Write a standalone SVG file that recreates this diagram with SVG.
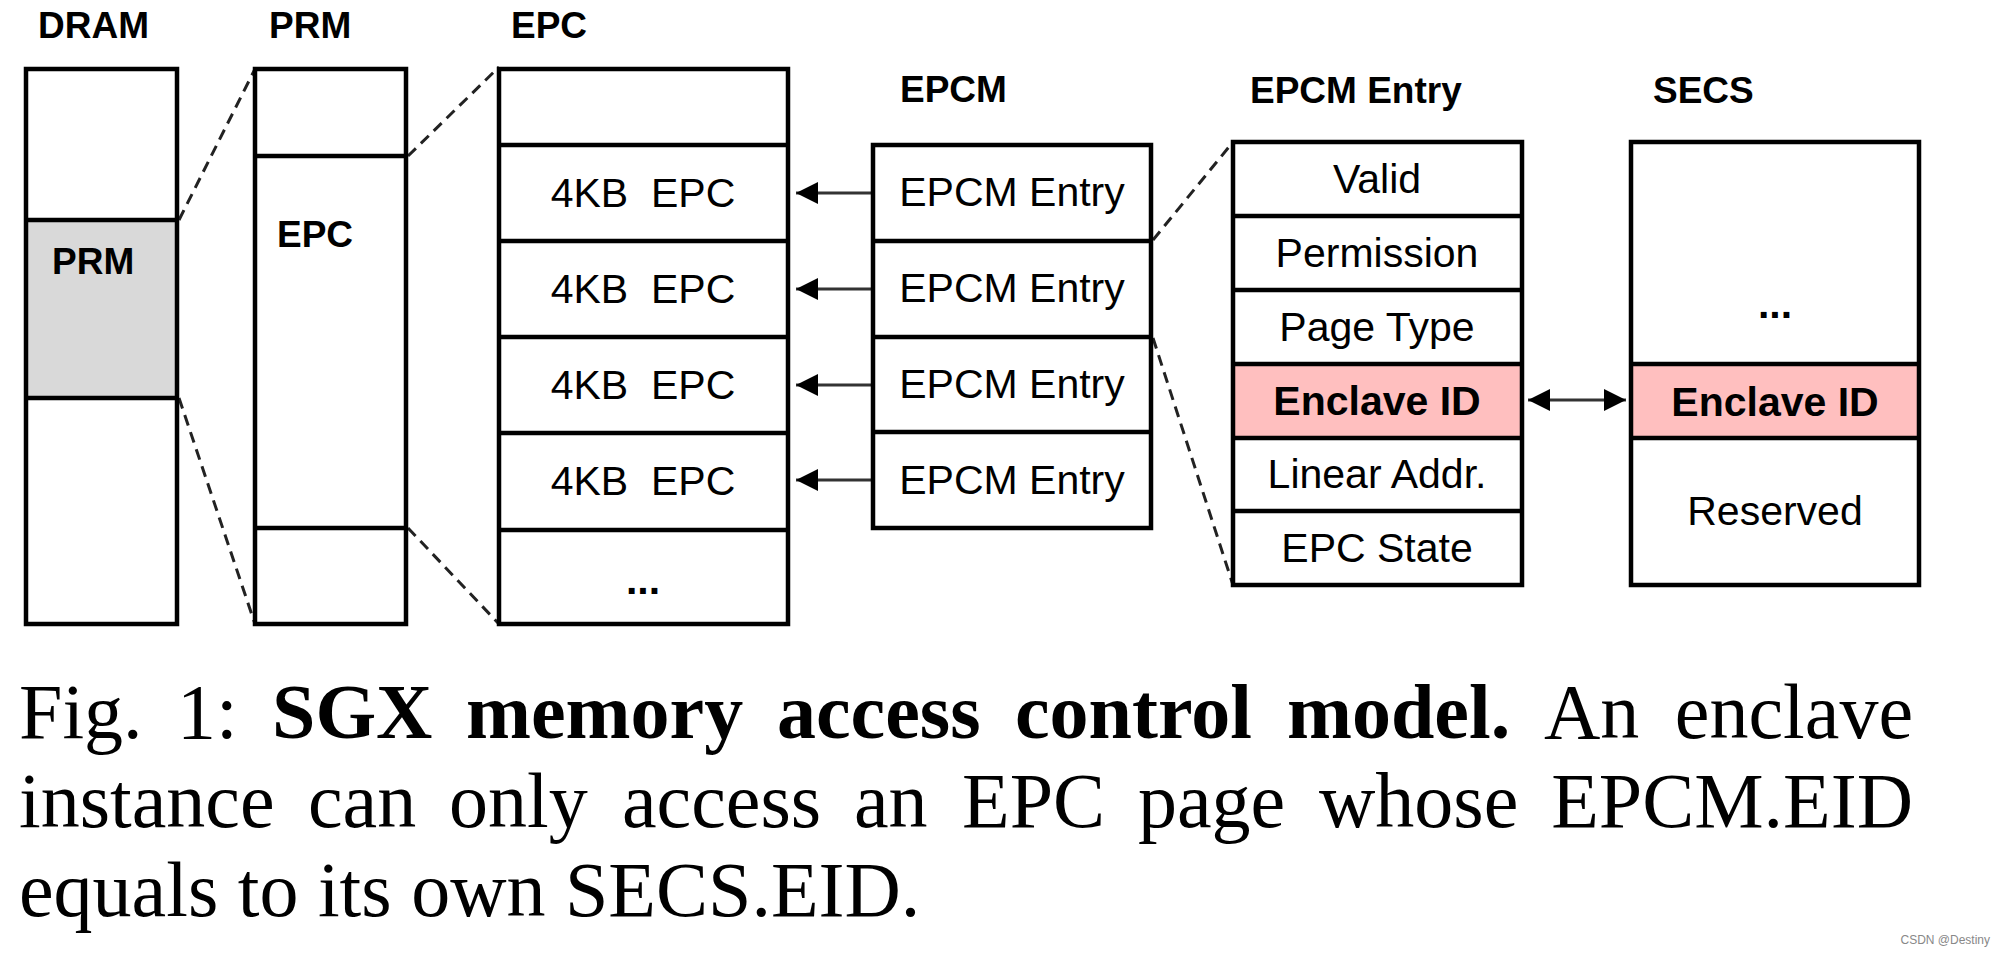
<svg xmlns="http://www.w3.org/2000/svg" width="2000" height="956" viewBox="0 0 2000 956">
<style>
.box{fill:none;stroke:#000;stroke-width:4.5}
.sep{stroke:#000;stroke-width:4.5}
.dash{stroke:#222;stroke-width:3;stroke-dasharray:11 7;fill:none}
.ttl{font-family:"Liberation Sans",Arial,sans-serif;font-weight:bold;font-size:37px;fill:#000}
.lbl{font-family:"Liberation Sans",Arial,sans-serif;font-size:41px;fill:#000;text-anchor:middle}
.b{font-weight:bold}
.arr{stroke:#333;stroke-width:3;fill:none}
.cap{font-family:"Liberation Serif","Times New Roman",serif;font-size:78px;fill:#000}
</style>
<defs>
<marker id="ah" viewBox="0 0 10 10" refX="10" refY="5" markerUnits="userSpaceOnUse" markerWidth="26" markerHeight="22" orient="auto-start-reverse">
<path d="M0,0 L10,5 L0,10 z" fill="#000"/>
</marker>
</defs>
<rect width="2000" height="956" fill="#fff"/>

<g id="connectors">
<line class="dash" x1="179" y1="220" x2="255" y2="69"/>
<line class="dash" x1="179" y1="398" x2="255" y2="624"/>
<line class="dash" x1="408" y1="156" x2="499" y2="67"/>
<line class="dash" x1="408" y1="528" x2="499" y2="624"/>
<line class="dash" x1="1153" y1="240" x2="1233" y2="142"/>
<line class="dash" x1="1153" y1="338" x2="1233" y2="585"/>
<line class="arr" x1="873" y1="193" x2="796" y2="193" marker-end="url(#ah)"/>
<line class="arr" x1="873" y1="289" x2="796" y2="289" marker-end="url(#ah)"/>
<line class="arr" x1="873" y1="385" x2="796" y2="385" marker-end="url(#ah)"/>
<line class="arr" x1="873" y1="480" x2="796" y2="480" marker-end="url(#ah)"/>
<line class="arr" x1="1528" y1="400" x2="1626" y2="400" marker-start="url(#ah)" marker-end="url(#ah)"/>
</g>

<g id="dram">
<text class="ttl" x="38" y="38">DRAM</text>
<rect x="26" y="220" width="151" height="178" fill="#d9d9d9"/>
<rect class="box" x="26" y="69" width="151" height="555"/>
<line class="sep" x1="26" y1="220" x2="177" y2="220"/>
<line class="sep" x1="26" y1="398" x2="177" y2="398"/>
<text class="ttl" x="52" y="274">PRM</text>
</g>

<g id="prm">
<text class="ttl" x="269" y="38">PRM</text>
<rect class="box" x="255" y="69" width="151" height="555"/>
<line class="sep" x1="255" y1="156" x2="406" y2="156"/>
<line class="sep" x1="255" y1="528" x2="406" y2="528"/>
<text class="ttl" x="277" y="247">EPC</text>
</g>

<g id="epc">
<text class="ttl" x="511" y="38">EPC</text>
<rect class="box" x="499" y="69" width="289" height="555"/>
<line class="sep" x1="499" y1="145" x2="788" y2="145"/>
<line class="sep" x1="499" y1="241" x2="788" y2="241"/>
<line class="sep" x1="499" y1="337" x2="788" y2="337"/>
<line class="sep" x1="499" y1="433" x2="788" y2="433"/>
<line class="sep" x1="499" y1="530" x2="788" y2="530"/>
<text class="lbl" x="643" y="207" font-size="44">4KB&#160; EPC</text>
<text class="lbl" x="643" y="303" font-size="44">4KB&#160; EPC</text>
<text class="lbl" x="643" y="399" font-size="44">4KB&#160; EPC</text>
<text class="lbl" x="643" y="495" font-size="44">4KB&#160; EPC</text>
<text class="lbl b" x="643" y="594" font-size="48">...</text>
</g>

<g id="epcm">
<text class="ttl" x="900" y="102">EPCM</text>
<rect class="box" x="873" y="145" width="278" height="383"/>
<line class="sep" x1="873" y1="241" x2="1151" y2="241"/>
<line class="sep" x1="873" y1="337" x2="1151" y2="337"/>
<line class="sep" x1="873" y1="432" x2="1151" y2="432"/>
<text class="lbl" x="1012" y="206">EPCM Entry</text>
<text class="lbl" x="1012" y="302">EPCM Entry</text>
<text class="lbl" x="1012" y="398">EPCM Entry</text>
<text class="lbl" x="1012" y="494">EPCM Entry</text>
</g>

<g id="epcm-entry">
<text class="ttl" x="1250" y="103">EPCM Entry</text>
<rect x="1233" y="364" width="289" height="74" fill="#ffbfbf"/>
<rect class="box" x="1233" y="142" width="289" height="443"/>
<line class="sep" x1="1233" y1="216" x2="1522" y2="216"/>
<line class="sep" x1="1233" y1="290" x2="1522" y2="290"/>
<line class="sep" x1="1233" y1="364" x2="1522" y2="364"/>
<line class="sep" x1="1233" y1="438" x2="1522" y2="438"/>
<line class="sep" x1="1233" y1="511" x2="1522" y2="511"/>
<text class="lbl" x="1377" y="193">Valid</text>
<text class="lbl" x="1377" y="267">Permission</text>
<text class="lbl" x="1377" y="341">Page Type</text>
<text class="lbl b" x="1377" y="415">Enclave ID</text>
<text class="lbl" x="1377" y="488">Linear Addr.</text>
<text class="lbl" x="1377" y="562">EPC State</text>
</g>

<g id="secs">
<text class="ttl" x="1653" y="103">SECS</text>
<rect x="1631" y="364" width="288" height="74" fill="#ffbfbf"/>
<rect class="box" x="1631" y="142" width="288" height="443"/>
<line class="sep" x1="1631" y1="364" x2="1919" y2="364"/>
<line class="sep" x1="1631" y1="438" x2="1919" y2="438"/>
<text class="lbl b" x="1775" y="318" font-size="46">...</text>
<text class="lbl b" x="1775" y="416" font-size="44">Enclave ID</text>
<text class="lbl" x="1775" y="525" font-size="43">Reserved</text>
</g>

<g id="caption">
<text class="cap" y="738"><tspan x="19">Fig.</tspan><tspan x="177">1:</tspan><tspan x="272" font-weight="bold">SGX</tspan><tspan x="466" font-weight="bold">memory</tspan><tspan x="777" font-weight="bold">access</tspan><tspan x="1015" font-weight="bold">control</tspan><tspan x="1287" font-weight="bold">model.</tspan><tspan x="1544">An</tspan></text>
<text class="cap" x="1913" y="738" text-anchor="end">enclave</text>
<text class="cap" y="827"><tspan x="19">instance</tspan><tspan x="308">can</tspan><tspan x="449">only</tspan><tspan x="622">access</tspan><tspan x="854">an</tspan><tspan x="962">EPC</tspan><tspan x="1138">page</tspan><tspan x="1319">whose</tspan></text>
<text class="cap" x="1913" y="827" text-anchor="end">EPCM.EID</text>
<text class="cap" x="19" y="916">equals to its own SECS.EID.</text>
<text x="1990" y="944" font-family="Liberation Sans,Arial,sans-serif" font-size="12" fill="#888" text-anchor="end">CSDN @Destiny</text>
</g>
</svg>
